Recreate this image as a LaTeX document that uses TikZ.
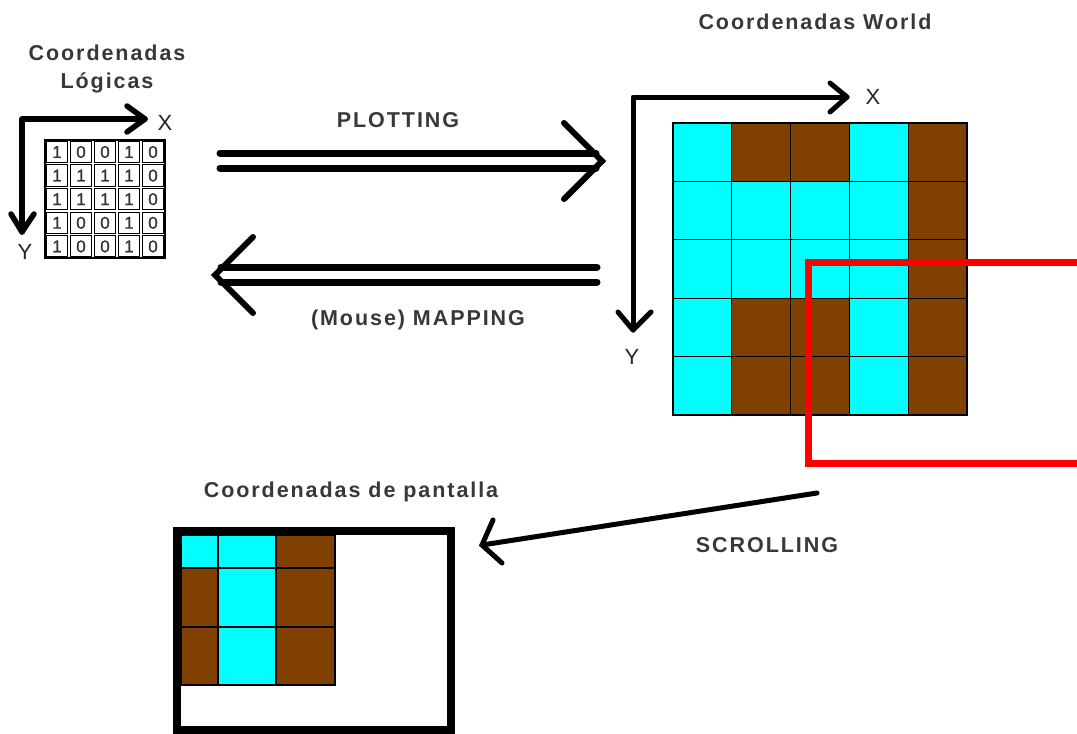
\documentclass[tikz,border=0pt]{standalone}
\usepackage{fontspec}
\setmainfont{Liberation Sans}
\newfontfamily\lab[LetterSpace=9]{Liberation Sans Bold}
\newfontfamily\axl{Liberation Sans}
\newfontfamily\dig[FakeBold=1]{Liberation Sans}
\definecolor{wcyan}{RGB}{0,255,255}
\definecolor{wbrown}{RGB}{128,64,0}
\definecolor{wred}{RGB}{255,0,0}
\colorlet{cell1}{wcyan}
\colorlet{cell0}{wbrown}
\begin{document}
\begin{tikzpicture}[x=1pt,y=-1pt,
  lbl/.style={font=\fontsize{21.5}{28}\selectfont\lab, text=black!78, inner sep=0, align=center},
  axlbl/.style={font=\fontsize{22}{26}\selectfont\axl, text=black!85, inner sep=0},
  digit/.style={font=\fontsize{17}{18}\selectfont\dig, text=black!80, inner sep=0},
  axisline/.style={line width=5.5, line cap=round, line join=round},
  bigline/.style={line width=7, line cap=round},
  chev/.style={line width=6, line cap=round, line join=miter},
  gridcell/.style={draw=black, line width=1.2},
]
\useasboundingbox (0,0) rectangle (1077,734);
\clip (0,0) rectangle (1077,734);
\fill[white] (0,0) rectangle (1077,734);

% ---------- Logical coordinates ----------
\node[lbl] (tlog) at (107,69) {Coordenadas\\Lógicas};
\foreach \row [count=\j from 0] in {{1,0,0,1,0},{1,1,1,1,0},{1,1,1,1,0},{1,0,0,1,0},{1,0,0,1,0}} {
  \foreach \v [count=\i from 0] in \row {
    \draw[line width=0.9] (45+24*\i+1.2, 140+23.6*\j+1.2) rectangle ++(21.6,21.2);
    \node[digit] at (45+24*\i+12, 140+23.6*\j+12) {\v};
  }
}
\draw[line width=1.2] (45,140) rectangle (165,258);
\coordinate (lo) at (22,119);
\coordinate (lx) at (145,119);
\coordinate (ly) at (22,232);
\draw[axisline] (lx) -- (lo) -- (ly);
\draw[axisline] (127,106) -- (lx) -- (127,132);
\draw[axisline] (11,214) -- (ly) -- (34,214);
\node[axlbl] (lX) at (165,123) {X};
\node[axlbl] (lY) at (25,252) {Y};

% ---------- PLOTTING / MAPPING ----------
\node[lbl] (lplot) at (398,120) {PLOTTING};
\coordinate (p1) at (220,153);
\coordinate (p2) at (596,153);
\coordinate (p3) at (220,168);
\coordinate (p4) at (596,168);
\coordinate (ptip) at (602,161);
\draw[bigline] (p1) -- (p2);
\draw[bigline] (p3) -- (p4);
\draw[chev] (564,123) -- (ptip) -- (564,199);

\node[lbl] (lmap) at (418,320) {(Mouse) MAPPING};
\coordinate (m1) at (597,267);
\coordinate (m2) at (221,267);
\coordinate (m3) at (597,282);
\coordinate (m4) at (221,282);
\coordinate (mtip) at (215,275);
\draw[bigline] (m1) -- (m2);
\draw[bigline] (m3) -- (m4);
\draw[chev] (253,237) -- (mtip) -- (253,313);

% ---------- World coordinates ----------
\node[lbl] (tworld) at (815,22) {Coordenadas World};
\foreach \row [count=\j from 0] in {{1,0,0,1,0},{1,1,1,1,0},{1,1,1,1,0},{1,0,0,1,0},{1,0,0,1,0}} {
  \foreach \v [count=\i from 0] in \row {
    \draw[gridcell, fill=cell\v] (673+58.8*\i, 123+58.4*\j) rectangle ++(58.8,58.4);
  }
}
\coordinate (wo) at (633,97);
\coordinate (wx) at (847,97);
\coordinate (wy) at (633,330);
\draw[axisline, line width=5] (wx) -- (wo) -- (wy);
\draw[axisline, line width=5] (830,83) -- (wx) -- (830,112);
\draw[axisline, line width=5] (618,312) -- (wy) -- (651,312);
\node[axlbl] (wX) at (873,97) {X};
\node[axlbl] (wY) at (632,357) {Y};

% red viewport
\draw[wred, line width=7] (808,262) rectangle (1120,463);

% ---------- Screen coordinates ----------
\node[lbl] (tscreen) at (351,492) {Coordenadas de pantalla};
\fill[white] (177,531) rectangle (451,730);
\draw[gridcell, fill=wcyan]  (181,535) rectangle (218,568);
\draw[gridcell, fill=wcyan]  (218,535) rectangle (276,568);
\draw[gridcell, fill=wbrown] (276,535) rectangle (335,568);
\draw[gridcell, fill=wbrown] (181,568) rectangle (218,627);
\draw[gridcell, fill=wcyan]  (218,568) rectangle (276,627);
\draw[gridcell, fill=wbrown] (276,568) rectangle (335,627);
\draw[gridcell, fill=wbrown] (181,627) rectangle (218,685);
\draw[gridcell, fill=wcyan]  (218,627) rectangle (276,685);
\draw[gridcell, fill=wbrown] (276,627) rectangle (335,685);
\draw[line width=7.5] (177,531) rectangle (451,730);

% ---------- SCROLLING ----------
\node[lbl] (lscroll) at (767,545) {SCROLLING};
\coordinate (s1) at (817,493);
\coordinate (stip) at (482,545);
\draw[line width=5, line cap=round] (s1) -- (stip);
\draw[line width=5, line cap=round, line join=miter] (493,520) -- (stip) -- (502,563);
\end{tikzpicture}
\end{document}
